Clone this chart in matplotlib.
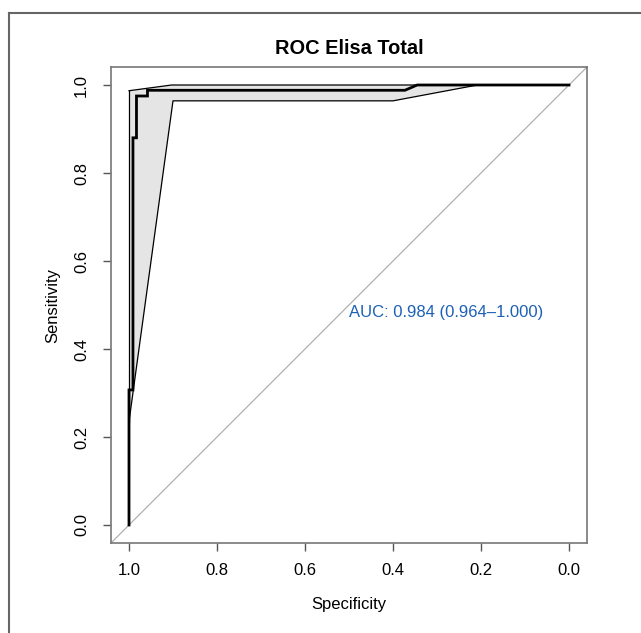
import matplotlib
matplotlib.use("Agg")
import matplotlib.pyplot as plt
from matplotlib.lines import Line2D

plt.rcParams['font.family'] = ['Liberation Sans', 'DejaVu Sans']

# ROC curve (specificity, sensitivity)
roc_spec = [1.0, 1.0, 0.991, 0.991, 0.983, 0.983, 0.958, 0.958, 0.373, 0.345, 0.0]
roc_sens = [0.0, 0.307, 0.307, 0.880, 0.880, 0.975, 0.975, 0.988, 0.988, 1.0, 1.0]

# CI band of sensitivity
ci_spec_upper = [1.0, 0.903, 0.0]
ci_sens_upper = [0.987, 1.0, 1.0]
ci_spec_lower = [1.0, 0.9, 0.4, 0.208, 0.0]
ci_sens_lower = [0.235, 0.964, 0.964, 1.0, 1.0]

title = "ROC Elisa Total"
auc_label = "AUC: 0.984 (0.964\u20131.000)"
ticks = [0.0, 0.2, 0.4, 0.6, 0.8, 1.0]

fig = plt.figure(figsize=(6.41, 6.33), dpi=100)
# outer frame (only left and top edges visible)
x0, y0 = 8.5/641, 1 - 13/633
fig.add_artist(Line2D([x0, x0], [-0.01, y0], transform=fig.transFigure,
                      color='#666666', linewidth=1.5))
fig.add_artist(Line2D([x0, 1.01], [y0, y0], transform=fig.transFigure,
                      color='#666666', linewidth=1.5))

ax = fig.add_axes([111.4/641, 1 - 542.6/633, 475.2/641, 475.2/633])

ax.set_xlim(1.04, -0.04)
ax.set_ylim(-0.04, 1.04)

# diagonal
ax.axline((1, 0), (0, 1), color='#b0b0b0', linewidth=0.9, zorder=1)

# CI polygon
poly_x = ci_spec_upper + ci_spec_lower[::-1]
poly_y = ci_sens_upper + ci_sens_lower[::-1]
ax.fill(poly_x, poly_y, facecolor='#e5e5e5', edgecolor='none', zorder=2)
ax.plot(ci_spec_upper, ci_sens_upper, color='black', linewidth=0.9, zorder=3)
ax.plot(ci_spec_lower, ci_sens_lower, color='black', linewidth=0.9, zorder=3)
ax.plot([1.0, 1.0], [ci_sens_lower[0], ci_sens_upper[0]], color='black', linewidth=0.9, zorder=3)

# ROC curve
ax.plot(roc_spec, roc_sens, color='black', linewidth=2.0, zorder=4,
        solid_joinstyle='miter')

ax.text(0.5, 0.5, auc_label, color='#1c61b6', fontsize=12, ha='left', va='top', zorder=5)

ax.set_xticks(ticks)
ax.set_yticks(ticks)
ax.set_xticklabels([f"{t:.1f}" for t in ticks])
ax.set_yticklabels([f"{t:.1f}" for t in ticks], rotation=90, va='center')
ax.tick_params(direction='out', length=6, width=1, color='#555555', labelsize=12, pad=9)
ax.tick_params(axis='y', pad=10)
for s in ax.spines.values():
    s.set_color('#777777')
    s.set_linewidth(1.2)

ax.set_xlabel("Specificity", fontsize=12, labelpad=13.5)
ax.set_ylabel("Sensitivity", fontsize=12, labelpad=10)
ax.set_title(title, fontsize=14.4, fontweight='bold', pad=9.5)

fig.savefig("out.png", dpi=100)
